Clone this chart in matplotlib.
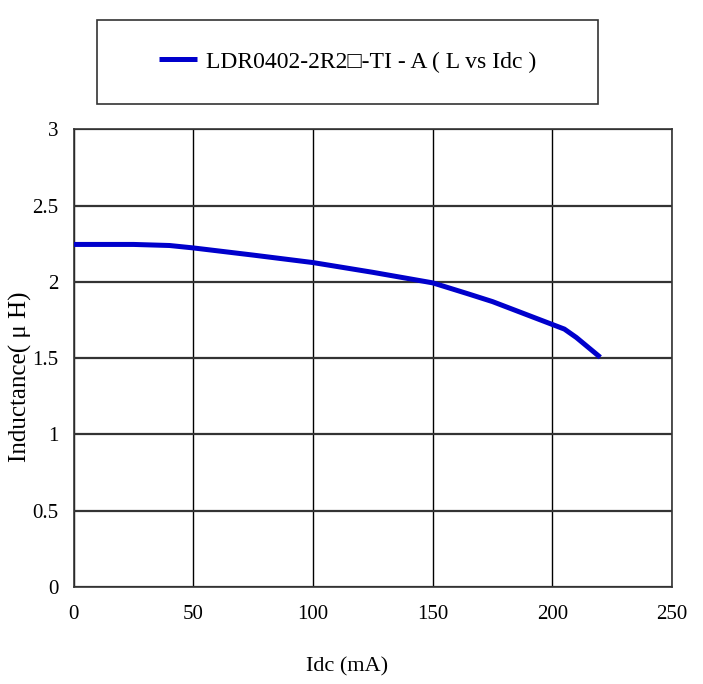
import matplotlib
matplotlib.use('Agg')
import matplotlib.pyplot as plt
from matplotlib.patches import Rectangle
import numpy as np

plt.rcParams['font.family'] = ['Liberation Serif', 'DejaVu Serif']

#### data
idc = [0, 25, 40, 50, 75, 100, 125, 150, 165, 175, 190, 200, 205, 210, 215, 220]
ind = [2.245, 2.245, 2.238, 2.222, 2.175, 2.126, 2.062, 1.993, 1.92, 1.87, 1.78, 1.72, 1.69, 1.635, 1.57, 1.505]
series_name = 'LDR0402-2R2\u25a1-TI - A ( L vs Idc )'
xticks = [0, 50, 100, 150, 200, 250]
yticks = [0, 0.5, 1, 1.5, 2, 2.5, 3]
ytick_labels = ['0', '0.5', '1', '1.5', '2', '2.5', '3']

fig = plt.figure(figsize=(7.03, 6.84), dpi=100)
ax = fig.add_axes([0.105, 0.142, 0.851, 0.669])

line, = ax.plot(idc, ind, color='#0000cc', lw=3.6, solid_capstyle='butt', zorder=3)

ax.set_xlim(0, 250)
ax.set_ylim(0, 3)
ax.set_xticks(xticks)
ax.set_yticks(yticks)
ax.set_yticklabels(ytick_labels)
ax.tick_params(length=0, labelsize=15)
ax.tick_params(axis='x', pad=13)
ax.tick_params(axis='y', pad=11)
ax.xaxis.grid(True, color='black', lw=1.0)
ax.yaxis.grid(True, color='#333333', lw=1.6)
for s in ax.spines.values():
    s.set_color('#333333')
    s.set_linewidth(1.2)

ax.set_xlabel('Idc (mA)', fontsize=16)
ax.xaxis.set_label_coords(0.457, -0.153)
ax.set_ylabel('Inductance( \u03bc H)', fontsize=18)
ax.yaxis.set_label_coords(-0.07, 0.4585)

## legend box on top
fig.patches.append(Rectangle((0.138, 0.848), 0.713, 0.123, transform=fig.transFigure,
                             fill=False, edgecolor='#333333', lw=1.2))
fig.legend([line], [series_name], loc='center', bbox_to_anchor=(0.4945, 0.9095),
           frameon=False, fontsize=17, handlelength=1.6, handletextpad=0.4)

plt.savefig('out.png', dpi=100)
